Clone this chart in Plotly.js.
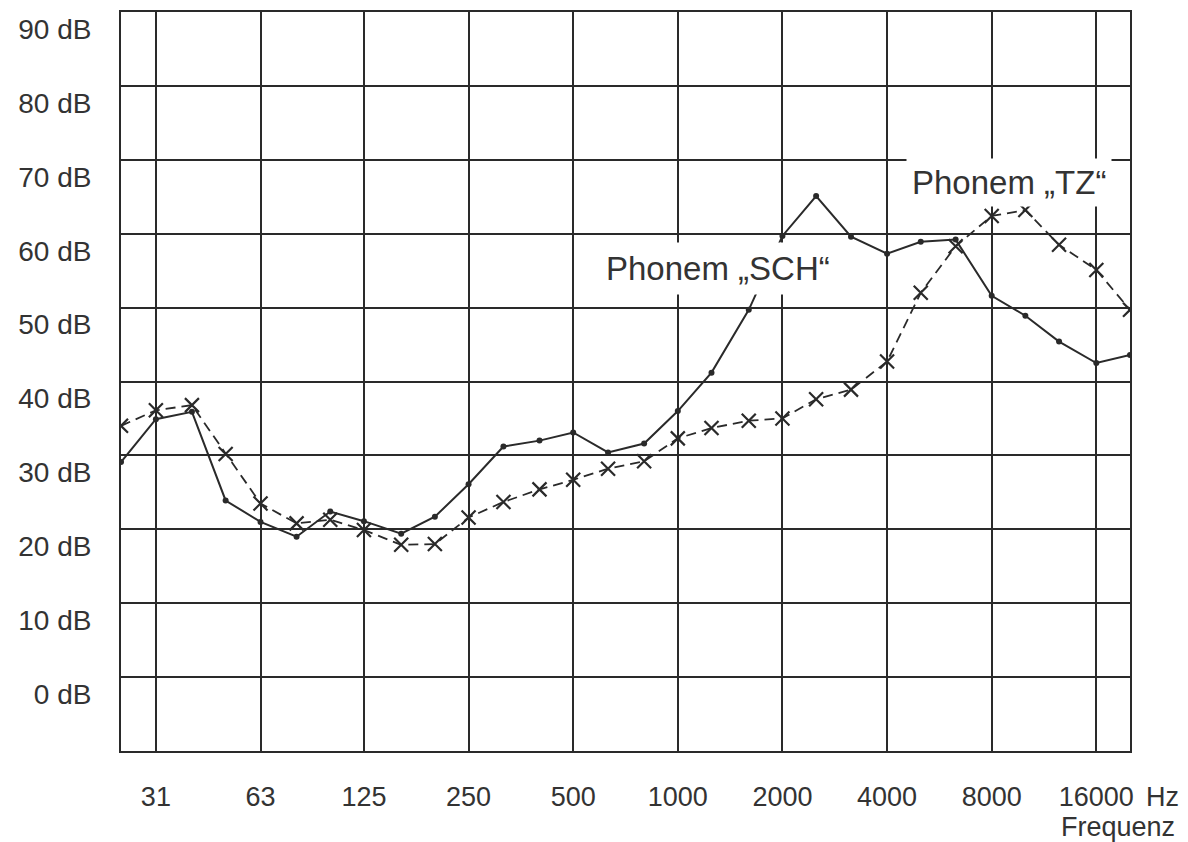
<!DOCTYPE html>
<html>
<head>
<meta charset="utf-8">
<script src="https://cdn.plot.ly/plotly-3.0.1.min.js"></script>
<style>
  html, body { margin: 0; padding: 0; background: #fff; }
  #chart { width: 1188px; height: 842px; }
</style>
</head>
<body>
<div id="chart"></div>
<script>
// Third-octave band centre frequencies (Hz)
const freqs = [25, 31.5, 40, 50, 63, 80, 100, 125, 160, 200, 250, 315, 400, 500, 630, 800,
               1000, 1250, 1600, 2000, 2500, 3150, 4000, 5000, 6300, 8000, 10000, 12500, 16000, 20000];

// Phonem "SCH" (solid line, dots), dB
const schValues = [29.1, 34.9, 35.9, 23.9, 21.0, 19.0, 22.4, 21.1, 19.4, 21.7, 26.1, 31.2, 32.0, 33.1, 30.4, 31.6,
                   36.0, 41.2, 49.7, 59.7, 65.1, 59.6, 57.3, 58.9, 59.2, 51.6, 48.9, 45.4, 42.5, 43.6];

// Phonem "TZ" (dashed line, crosses), dB
const tzValues = [34.0, 36.1, 36.8, 30.2, 23.5, 20.8, 21.3, 19.9, 17.9, 18.0, 21.6, 23.7, 25.4, 26.7, 28.2, 29.2,
                  32.3, 33.7, 34.7, 35.0, 37.6, 38.9, 42.7, 52.0, 58.3, 62.4, 63.2, 58.5, 55.1, 49.7];

// Octave tick positions and labels
const xTickVals = [31.5, 63, 125, 250, 500, 1000, 2000, 4000, 8000, 16000];
const xTickText = ['31', '63', '125', '250', '500', '1000', '2000', '4000', '8000', '16000'];

const yTickVals = [0, 10, 20, 30, 40, 50, 60, 70, 80, 90];
const yTickText = ['0 dB', '10 dB', '20 dB', '30 dB', '40 dB', '50 dB', '60 dB', '70 dB', '80 dB', '90 dB'];

const labelSCH = 'Phonem \u201ESCH\u201C';
const labelTZ = 'Phonem \u201ETZ\u201C';
const unitLabel = 'Hz';
const axisName = 'Frequenz';

const ink = '#2a2a2a';
const textInk = '#333333';
const font = 'Liberation Sans, Arial, sans-serif';

const traces = [
  {
    x: freqs, y: tzValues, type: 'scatter', mode: 'lines+markers',
    line: { color: ink, width: 1.8, dash: '10px,6px' },
    marker: { symbol: 'x-thin', size: 14, color: ink, line: { color: ink, width: 2.2 } },
    showlegend: false, hoverinfo: 'skip'
  },
  {
    x: freqs, y: schValues, type: 'scatter', mode: 'lines+markers',
    line: { color: ink, width: 2 },
    marker: { symbol: 'circle', size: 6, color: ink },
    showlegend: false, hoverinfo: 'skip'
  }
];

const layout = {
  width: 1188, height: 842,
  margin: { l: 121, r: 58, t: 12, b: 91 },
  paper_bgcolor: '#fff', plot_bgcolor: '#fff',
  font: { family: font, color: textInk },
  xaxis: {
    type: 'log',
    range: [Math.log10(25), Math.log10(20000)],
    tickmode: 'array', tickvals: xTickVals, ticktext: xTickText,
    showgrid: true, gridcolor: ink, gridwidth: 2,
    showline: true, linecolor: ink, linewidth: 2, mirror: true,
    ticks: '', zeroline: false,
    tickfont: { size: 27, family: font, color: textInk },
    ticklabelstandoff: 21
  },
  yaxis: {
    range: [-10, 90],
    tickmode: 'array', tickvals: yTickVals, ticktext: yTickText,
    showgrid: true, gridcolor: ink, gridwidth: 2,
    showline: true, linecolor: ink, linewidth: 2, mirror: true,
    ticks: '', zeroline: false,
    tickfont: { size: 28, family: font, color: textInk },
    ticklabelstandoff: 22,
    ticklabelshift: 17
  },
  annotations: [
    {
      text: labelSCH, xref: 'paper', yref: 'paper', x: 0.5915, y: 0.653,
      xanchor: 'center', yanchor: 'middle', showarrow: false,
      font: { size: 33, family: font, color: textInk },
      bgcolor: '#fff', borderpad: 7
    },
    {
      text: labelTZ, xref: 'paper', yref: 'paper', x: 0.880, y: 0.769,
      xanchor: 'center', yanchor: 'middle', showarrow: false,
      font: { size: 33, family: font, color: textInk },
      bgcolor: '#fff', borderpad: 5
    },
    {
      text: unitLabel, xref: 'x', yref: 'paper', x: Math.log10(16000), y: 0,
      xanchor: 'left', yanchor: 'middle', xshift: 48, yshift: -46, showarrow: false,
      font: { size: 27, family: font, color: textInk }
    },
    {
      text: axisName, xref: 'paper', yref: 'paper', x: 1.047, y: 0,
      xanchor: 'right', yanchor: 'middle', yshift: -76, showarrow: false,
      font: { size: 27, family: font, color: textInk }
    }
  ]
};

Plotly.newPlot('chart', traces, layout, { staticPlot: true, displayModeBar: false });
</script>
</body>
</html>
